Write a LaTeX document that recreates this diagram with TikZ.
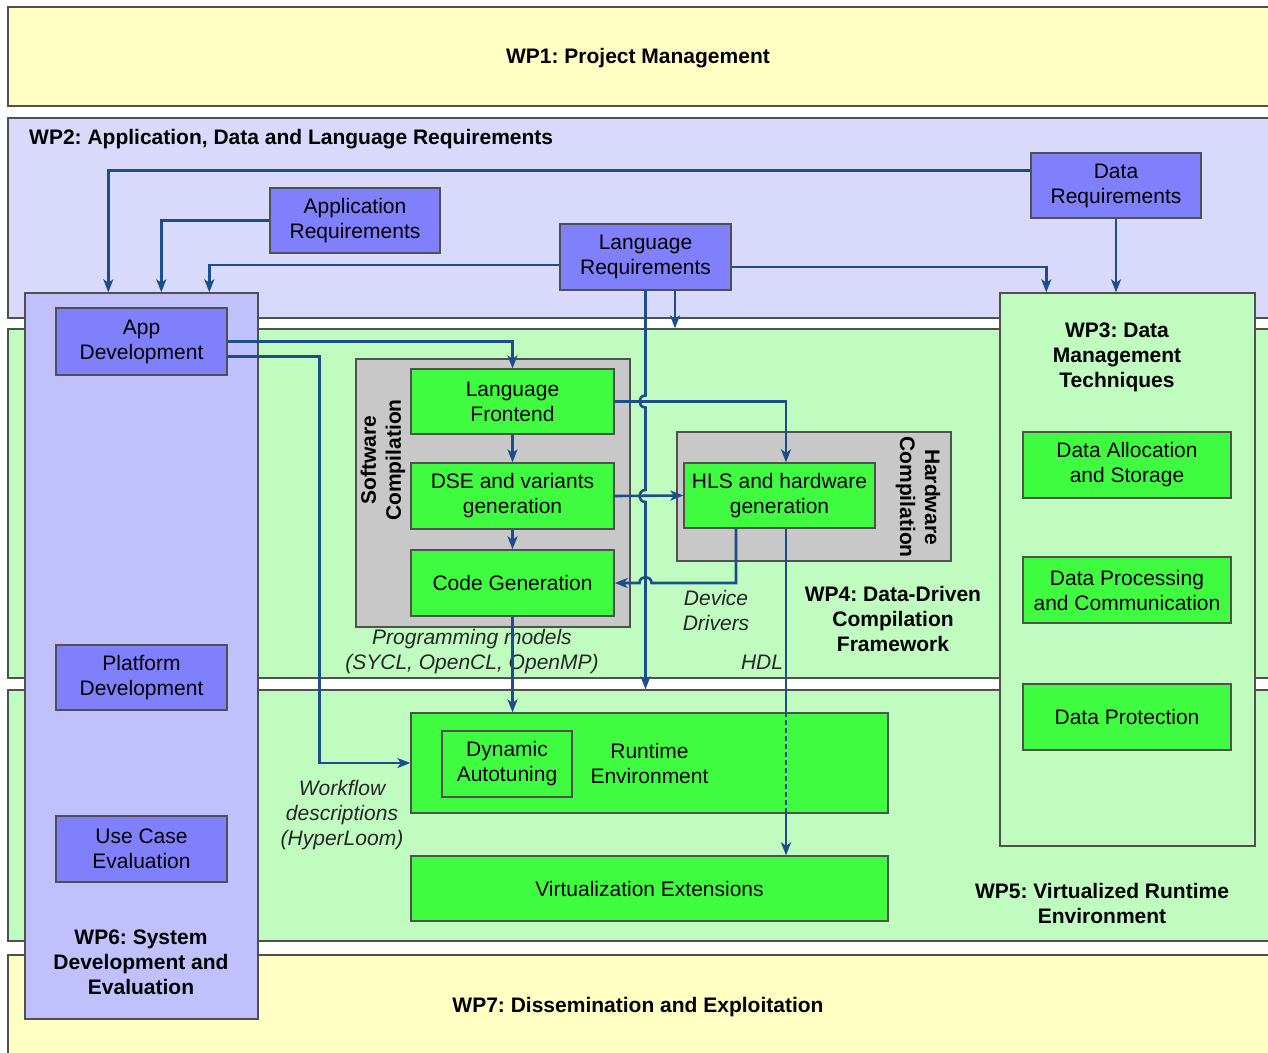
\documentclass[tikz,border=0pt]{standalone}
\usepackage{fontspec}
\setmainfont{Liberation Sans}
\usetikzlibrary{arrows.meta,calc}
\frenchspacing

\definecolor{wpyellow}{HTML}{FFFFC4}
\definecolor{wplav}{HTML}{D9D9FC}
\definecolor{wpgreen}{HTML}{C0FCC0}
\definecolor{wpsys}{HTML}{C0C0FC}
\definecolor{reqblue}{HTML}{8080FC}
\definecolor{taskgreen}{HTML}{40FC40}
\definecolor{compgray}{HTML}{C8C8C8}
\definecolor{flow}{HTML}{1C4E8A}
\definecolor{edgegray}{HTML}{505050}

\newcommand\lblfont{\fontsize{21}{25}\selectfont}

\tikzset{
  wpband/.style={draw=edgegray, line width=1.4pt, inner sep=0pt},
  taskbox/.style={draw=edgegray, line width=1.3pt, align=center, inner sep=0pt, font=\lblfont},
  reqbox/.style={taskbox, fill=reqblue},
  greenbox/.style={taskbox, fill=taskgreen},
  compbox/.style={draw=edgegray, line width=1.3pt, fill=compgray, inner sep=0pt},
  wptitle/.style={font=\lblfont\bfseries, align=center, inner sep=0pt},
  note/.style={font=\lblfont\itshape, align=center, inner sep=0pt, text=black!85},
  flowline/.style={draw=flow, line width=2.6pt},
  flowarrow/.style={flowline, -{Stealth[length=13pt,width=10pt,inset=3.5pt]}},
}

\begin{document}
\begin{tikzpicture}[x=1pt,y=-1pt]
\clip (0,0) rectangle (1268,1052);
\fill[white] (0,0) rectangle (1268,1052);

% work package bands
\node[wpband, fill=wpyellow, minimum width=1282pt, minimum height=99pt] (wp1) at (649,56.5) {};
\node[wpband, fill=wplav, minimum width=1282pt, minimum height=200pt] (wp2) at (649,218) {};
\node[wpband, fill=wpgreen, minimum width=1282pt, minimum height=349pt] (wp4) at (649,503.5) {};
\node[wpband, fill=wpgreen, minimum width=1282pt, minimum height=251pt] (wp5) at (649,815.5) {};
\node[wpband, fill=wpyellow, minimum width=1282pt, minimum height=115pt] (wp7) at (649,1012.5) {};

\node[wptitle] at (638,58) {WP1: Project Management};
\node[wptitle, anchor=west] at (29,139) {WP2: Application, Data and Language Requirements};
\node[wptitle] at (638,1007) {WP7: Dissemination and Exploitation};

% vertical work packages
\node[wpband, fill=wpsys, minimum width=233pt, minimum height=726pt] (wp6) at (141.5,656) {};
\node[wpband, fill=wpgreen, minimum width=255pt, minimum height=553pt] (wp3) at (1127.5,569.5) {};

\node[wptitle] at (141,962) {WP6: System\\Development and\\Evaluation};
\node[wptitle] at (1117,357) {WP3: Data\\Management\\Techniques};
\node[wptitle] at (893,619) {WP4: Data-Driven\\Compilation\\Framework};
\node[wptitle] at (1102,903) {WP5: Virtualized Runtime\\Environment};

% requirement boxes
\node[reqbox, minimum width=170pt, minimum height=65pt] (appreq) at (355,220.5) {Application\\Requirements};
\node[reqbox, minimum width=170pt, minimum height=65pt] (dreq) at (1116,185.5) {Data\\Requirements};
\node[reqbox, minimum width=171pt, minimum height=66pt] (lreq) at (645.5,257) {Language\\Requirements};

% system development boxes
\node[reqbox, minimum width=171pt, minimum height=67pt] (appdev) at (141.5,341.5) {App\\Development};
\node[reqbox, minimum width=171pt, minimum height=65pt] (platdev) at (141.5,677.5) {Platform\\Development};
\node[reqbox, minimum width=171pt, minimum height=66pt] (usecase) at (141.5,849) {Use Case\\Evaluation};

% compilation framework
\node[compbox, minimum width=274pt, minimum height=268pt] (swcomp) at (493,493) {};
\node[compbox, minimum width=274pt, minimum height=129pt] (hwcomp) at (814,496.5) {};
\node[wptitle, rotate=90] at (383,460) {Software\\Compilation};
\node[wptitle, rotate=-90] at (918,497) {Hardware\\Compilation};

\node[greenbox, minimum width=203pt, minimum height=65pt] (lfront) at (512.5,401.5) {Language\\Frontend};
\node[greenbox, minimum width=203pt, minimum height=66pt] (dse) at (512.5,496) {DSE and variants\\generation};
\node[greenbox, minimum width=203pt, minimum height=66pt] (codegen) at (512.5,583) {Code Generation};
\node[greenbox, minimum width=191pt, minimum height=65pt] (hls) at (779.5,495.5) {HLS and hardware\\generation};

% runtime
\node[greenbox, minimum width=477pt, minimum height=100pt] (runtime) at (649.5,763) {Runtime\\Environment};
\node[greenbox, minimum width=130pt, minimum height=66pt] (dynauto) at (507,764) {Dynamic\\Autotuning};
\node[greenbox, minimum width=477pt, minimum height=65pt] (virt) at (649.5,888.5) {Virtualization Extensions};

% data management
\node[greenbox, minimum width=208pt, minimum height=66pt] (dalloc) at (1127,465) {Data Allocation\\and Storage};
\node[greenbox, minimum width=208pt, minimum height=66pt] (dproc) at (1127,590) {Data Processing\\and Communication};
\node[greenbox, minimum width=208pt, minimum height=66pt] (dprot) at (1127,717) {Data Protection};

% annotations
\node[note] at (472,652) {Programming models\\(SYCL, OpenCL, OpenMP)};
\node[note] at (716,610) {Device\\Drivers};
\node[note] at (762,662) {HDL};
\node[note] at (342,815) {Workflow\\descriptions\\(HyperLoom)};

% requirements flows
\draw[flowarrow] ([yshift=15pt]dreq.west) -| ([xshift=84pt]wp6.north west);
\draw[flowarrow] (appreq.west) -| ([xshift=137pt]wp6.north west);
\draw[flowarrow] ([yshift=-8pt]lreq.west) -| ([xshift=185pt]wp6.north west);
\draw[flowarrow] ([yshift=-10pt]lreq.east) -| ([xshift=47pt]wp3.north west);
\draw[flowarrow] (dreq.south) -- (dreq.south |- wp3.north);
\draw[flowarrow] ([xshift=29.5pt]lreq.south) -- ([xshift=29.5pt]lreq.south |- wp4.north);

% language bus down to the runtime band, hopping over the compiler flows
\draw[flowarrow] (lreq.south) -- (645.5,395.5)
  .. controls (637.5,395.5) and (637.5,407.5) .. (645.5,407.5) -- (645.5,490)
  .. controls (637.5,490) and (637.5,502) .. (645.5,502)
  -- (lreq.south |- wp5.north);

% application development flows
\draw[flowarrow] (appdev.east) -| (lfront.north);
\draw[flowarrow] ([yshift=-15pt]appdev.east) -| ([xshift=-91pt]runtime.west) -- (runtime.west);

% software compilation chain
\draw[flowarrow] (lfront.south) -- (dse.north);
\draw[flowarrow] (dse.south) -- (codegen.north);
\draw[flowarrow] (lfront.east) -| ([xshift=6.5pt]hls.north);
\draw[flowarrow] (dse.east) -- (hls.west);

% device drivers back to code generation
\draw[flowarrow] ([xshift=-43.5pt]hls.south) |- (651.5,583)
  .. controls (651.5,575) and (639.5,575) .. (639.5,583) -- (codegen.east);

% HDL down to the virtualization extensions
\coordinate (hdl) at ([xshift=6.5pt]hls.south);
\draw[flowline] (hdl) -- (hdl |- runtime.north);
\draw[flowline, dash pattern=on 5pt off 3pt] (hdl |- runtime.north) -- (hdl |- runtime.south);
\draw[flowarrow] (hdl |- runtime.south) -- (hdl |- virt.north);

% generated code into the runtime
\draw[flowarrow] (codegen.south) -- (codegen.south |- runtime.north);
\end{tikzpicture}
\end{document}
